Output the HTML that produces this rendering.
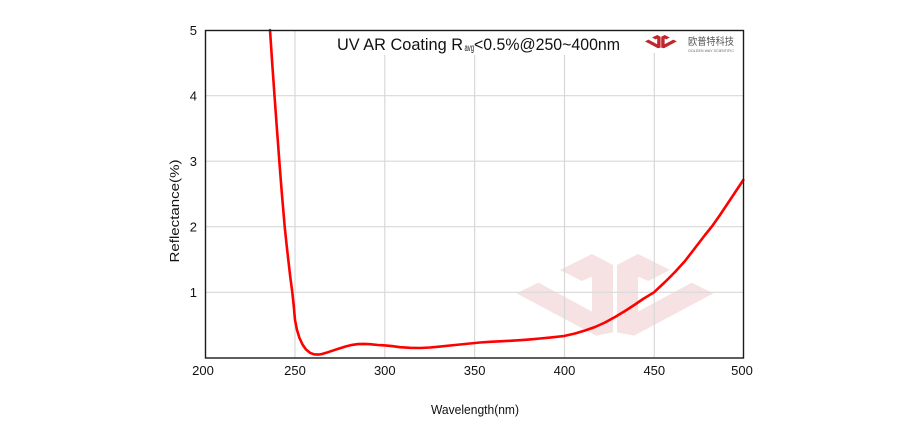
<!DOCTYPE html>
<html>
<head>
<meta charset="utf-8">
<style>
  html,body{margin:0;padding:0;background:#fff;}
  body{width:924px;height:440px;overflow:hidden;}
  svg{display:block;}
  text{font-family:"Liberation Sans","Noto Sans CJK SC",sans-serif;fill:#111;}
</style>
</head>
<body>
<svg width="924" height="440" viewBox="0 0 924 440" xmlns="http://www.w3.org/2000/svg">
  <defs>
    <g id="jc">
      <polygon points="150,75 246,27 309,60 309,262 258,272 20,145 85,113 246,200 246,95 215,108"/>
      <polygon points="480,75 384,27 321,60 321,262 372,272 610,145 545,113 384,200 384,95 415,108"/>
    </g>
  </defs>
  <rect x="0" y="0" width="924" height="440" fill="#fff"/>

  <!-- watermark -->
  <g transform="translate(510,245) scale(0.3333)" fill="#f6e2e2">
    <use href="#jc"/>
  </g>

  <!-- gridlines -->
  <g stroke="#d8d8d8" stroke-width="1.2">
    <line x1="295" y1="30" x2="295" y2="358"/>
    <line x1="384.8" y1="30" x2="384.8" y2="358"/>
    <line x1="474.6" y1="30" x2="474.6" y2="358"/>
    <line x1="564.5" y1="30" x2="564.5" y2="358"/>
    <line x1="654.3" y1="30" x2="654.3" y2="358"/>
    <line x1="205" y1="95.7" x2="744" y2="95.7"/>
    <line x1="205" y1="161.2" x2="744" y2="161.2"/>
    <line x1="205" y1="226.7" x2="744" y2="226.7"/>
    <line x1="205" y1="292.3" x2="744" y2="292.3"/>
  </g>

  <!-- title backdrop -->
  <rect x="330" y="31" width="298" height="24" fill="#fff"/>
  <rect x="640" y="31" width="102" height="22" fill="#fff"/>

  <!-- curve -->
  <polyline fill="none" stroke="#ff0000" stroke-width="2.6" stroke-linejoin="round" stroke-linecap="round"
    points="270,30 271.1,46.5 272.2,63 273.35,79.3 274.5,95.7 275.7,112 276.85,128 278.1,144.5 279.3,161 280.6,177.5 281.9,194 283.3,210.3 284.7,226.7 286.4,243 288.2,259 290.1,275.5 292.3,292.3 293.8,306.5 295,320 297,330 299.5,338 302.5,344.5 306,349.5 310,352.8 314,354.3 318.3,354.6 322,354 328,352.2 334,350.2 340,348.3 346,346.4 352,344.9 358,344.1 364,343.9 370,344.2 378,345 385,345.4 392,346.1 400,347.2 410,347.8 420,348 430,347.5 440,346.6 450,345.5 460,344.5 470,343.5 480,342.5 490,341.8 500,341.3 510,340.8 520,340.2 530,339.4 540,338.5 550,337.6 564,336 575,333.5 585,330.5 595,327 605,322.5 615,317 625,311 635,304.5 643,299 654,292.3 665,282 675,272 685,261 695,248 705,235 711.7,226.7 720,215 730,200 738,188 743.3,180"/>

  <!-- frame -->
  <rect x="205.5" y="30.5" width="538" height="327.5" fill="none" stroke="#1a1a1a" stroke-width="1.4"/>

  <!-- title -->
  <text x="337" y="50" font-size="17" textLength="126" lengthAdjust="spacingAndGlyphs">UV AR Coating R</text>
  <text x="464.5" y="51" font-size="10" textLength="9.5" lengthAdjust="spacingAndGlyphs">avg</text>
  <text x="474" y="50" font-size="17" textLength="146" lengthAdjust="spacingAndGlyphs">&lt;0.5%@250~400nm</text>

  <!-- logo -->
  <g transform="translate(643.9,33.5) scale(0.054)" fill="#c0262c">
    <use href="#jc"/>
  </g>
  <text x="688" y="45" font-size="10" style="fill:#555" textLength="46" lengthAdjust="spacingAndGlyphs">欧普特科技</text>
  <text x="688" y="52" font-size="4" style="fill:#666" textLength="46" lengthAdjust="spacingAndGlyphs">GOLDEN WAY SCIENTIFIC</text>

  <!-- y tick labels -->
  <g font-size="13" text-anchor="end">
    <text x="197" y="35">5</text>
    <text x="197" y="100.5">4</text>
    <text x="197" y="166">3</text>
    <text x="197" y="231.5">2</text>
    <text x="197" y="297">1</text>
  </g>

  <!-- x tick labels -->
  <g font-size="13" text-anchor="middle">
    <text x="203" y="375">200</text>
    <text x="295" y="375">250</text>
    <text x="384.8" y="375">300</text>
    <text x="474.6" y="375">350</text>
    <text x="564.5" y="375">400</text>
    <text x="654.3" y="375">450</text>
    <text x="742" y="375">500</text>
  </g>

  <!-- axis titles -->
  <text x="475" y="414" font-size="13" text-anchor="middle" textLength="88" lengthAdjust="spacingAndGlyphs">Wavelength(nm)</text>
  <text transform="translate(179,211) rotate(-90)" font-size="13" text-anchor="middle" textLength="103" lengthAdjust="spacingAndGlyphs">Reflectance(%)</text>
</svg>
</body>
</html>
